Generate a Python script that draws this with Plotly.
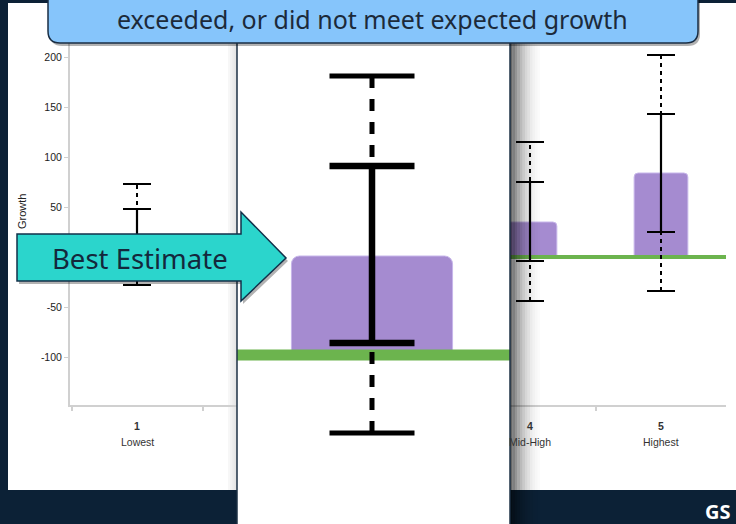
import plotly.graph_objects as go

W, H = 736, 524

# growth by quintile: best estimate and the two uncertainty bands
categories = [1, 2, 3, 4, 5]
category_names = ["Lowest", "Low-Mid", "Middle", "Mid-High", "Highest"]
best_estimate = [22, 27, 33, 35, 84]
inner_low = [-3, 1, 4, -4, 25]
inner_high = [48, 53, 63, 75, 143]
outer_low = [-28, -22, -26, -44, -34]
outer_high = [73, 77, 93, 115, 202]
expected_growth = [0, 0]
y_ticks = [-100, -50, 0, 50, 100, 150, 200]
zoomed_category = 3

banner_text = "exceeded, or did not meet expected growth"
arrow_text = "Best Estimate"

BAR = "#a58bd0"
GREEN = "#6cb44e"
NAVY = "#0c2136"
AXIS = "#d0d0d0"
FONT = "Liberation Sans"


def fx(p):
    return p / W


def fy(p):
    return 1 - p / H


# main chart: category 1 centred at 137px, 131px per category; growth 0 at 257px, 1px per unit
def cat_at(p, centre=1, centre_px=137, step=131):
    return centre + (p - centre_px) / step


def val_at(p, zero_px=257, step=1):
    return (zero_px - p) / step


def add_series(fig, xa, ya, st):
    fig.add_bar(x=categories, y=best_estimate, width=0.41, xaxis=xa, yaxis=ya,
                marker=dict(color=BAR, line=dict(color="#c7b6ea", width=1),
                            cornerradius=st["radius"]))
    edge = [categories[0] - 0.5, categories[-1] + 0.5]
    fig.add_scatter(x=edge, y=expected_growth, mode="lines", xaxis=xa, yaxis=ya,
                    line=dict(color=GREEN, width=st["green"]))
    xs, ys = [], []
    for c, lo, hi in zip(categories, outer_low, outer_high):
        xs += [c, c, None]
        ys += [lo, hi, None]
    fig.add_scatter(x=xs, y=ys, mode="lines", xaxis=xa, yaxis=ya,
                    line=dict(color="black", width=st["dot"], dash=st["dash"]))
    fig.add_scatter(x=categories * 2, y=outer_low + outer_high, mode="markers",
                    xaxis=xa, yaxis=ya,
                    marker=dict(symbol="line-ew", size=st["cap"] / 1.4,
                                line=dict(color="black", width=st["capw"])))
    fig.add_scatter(x=categories, y=best_estimate, mode="markers", xaxis=xa, yaxis=ya,
                    marker=dict(size=1, color="rgba(0,0,0,0)"),
                    error_y=dict(type="data", symmetric=False,
                                 array=[h - b for h, b in zip(inner_high, best_estimate)],
                                 arrayminus=[b - l for b, l in zip(best_estimate, inner_low)],
                                 color="black", thickness=st["solid"], width=st["cap"] / 2))


main_style = dict(radius=4, green=4, dot=2, dash="4px,4px", cap=28, capw=2, solid=2.2)
zoom_style = dict(radius=8, green=11, dot=5, dash="12px,11px", cap=85, capw=5, solid=6.5)

fig = go.Figure()
add_series(fig, "x", "y", main_style)
add_series(fig, "x2", "y2", zoom_style)
add_series(fig, "x3", "y3", main_style)

bounds = [c - 0.5 for c in categories] + [categories[-1] + 0.5]
cat_axis = dict(
    showline=True, linecolor=AXIS, linewidth=2, showgrid=False, zeroline=False,
    showticklabels=False, ticks="",
    minor=dict(tickmode="array", tickvals=bounds, ticks="outside", ticklen=4,
               tickcolor=AXIS, tickwidth=2),
)
main_y = dict(domain=[fy(405), fy(42)], range=[val_at(405), val_at(42)],
              showgrid=False, zeroline=False)

left_range = [cat_at(70), cat_at(237)]
right_range = [cat_at(510), cat_at(726)]
zoom_px = 372  # where the zoomed category sits
fig.update_layout(
    xaxis=dict(domain=[fx(70), fx(237)], range=left_range, anchor="y", **cat_axis),
    yaxis=dict(anchor="x", showline=True, linecolor=AXIS, linewidth=2,
               tickmode="array", tickvals=y_ticks,
               ticktext=[str(v) if v else "" for v in y_ticks],
               ticks="outside", ticklen=4, tickcolor=AXIS,
               tickfont=dict(family=FONT, size=10.5, color="#222"), **main_y),
    xaxis2=dict(domain=[fx(237), fx(510)], anchor="y2", visible=False,
                range=[cat_at(237, zoomed_category, zoom_px, 393),
                       cat_at(510, zoomed_category, zoom_px, 393)]),
    yaxis2=dict(domain=[0, 1], anchor="x2", visible=False,
                range=[val_at(524, 355, 3), val_at(0, 355, 3)]),
    xaxis3=dict(domain=[fx(510), fx(726)], range=right_range, anchor="y3", **cat_axis),
    yaxis3=dict(anchor="x3", visible=False, **main_y),
)

shapes = []


def rect(x0, y0, x1, y1, layer="below", **kw):
    return dict(type="rect", xref="paper", yref="paper", layer=layer,
                x0=fx(x0), x1=fx(x1), y0=fy(y1), y1=fy(y0), **kw)


def path(points, **kw):
    d = ""
    for cmd, *pts in points:
        d += cmd + " ".join(f"{fx(a):.5f},{fy(b):.5f}" for a, b in pts) + " "
    return dict(type="path", xref="paper", yref="paper", layer="above", path=d + "Z", **kw)


def shifted(points, dx, dy):
    return [(c, *[(a + dx, b + dy) for a, b in pts]) for c, *pts in points]


# slide panel and the zoom panel behind the chart
shapes.append(rect(8, 3, 736, 490, fillcolor="white", line_width=0))
shapes.append(rect(237, 0, 510, 524, fillcolor="white", line_width=0))
for i, a in enumerate([0.03, 0.05, 0.07, 0.09, 0.11]):
    shapes.append(rect(228 + i * 1.8, 0, 229.8 + i * 1.8, 490, fillcolor=f"rgba(0,0,0,{a})",
                       line_width=0))
# shadow to the right of the zoom panel
for i, a in enumerate([0.6, 0.5, 0.42, 0.34, 0.27, 0.21, 0.16, 0.12, 0.08, 0.05, 0.03, 0.015]):
    shapes.append(rect(510 + i * 2.5, 0, 512.5 + i * 2.5, 524, layer="above",
                       fillcolor=f"rgba(0,0,0,{a})", line_width=0))
for xp in (237, 510):
    shapes.append(dict(type="line", xref="paper", yref="paper", layer="above",
                       x0=fx(xp), x1=fx(xp), y0=0, y1=1,
                       line=dict(color="#1d3044", width=1.5)))

arrow = [("M", (17, 234)), ("L", (241, 234)), ("L", (241, 212)), ("L", (286, 258)),
         ("L", (241, 301)), ("L", (241, 281)), ("L", (17, 281))]
shapes.append(path(shifted(arrow, 2, 3), fillcolor="rgba(0,0,0,0.3)", line_width=0))
shapes.append(path(arrow, fillcolor="#2bd5cc", line=dict(color="#12304a", width=1.5)))

banner = [("M", (48, -5)), ("L", (48, 31)), ("Q", (48, 43), (60, 43)), ("L", (686, 43)),
          ("Q", (698, 43), (698, 31)), ("L", (698, -5))]
shapes.append(path(shifted(banner, 2, 3), fillcolor="rgba(0,0,0,0.3)", line_width=0))
shapes.append(path(banner, fillcolor="#86c5fb", line=dict(color="#1a2e44", width=1.5)))

annotations = [
    dict(text=banner_text, x=fx(373), y=fy(19), font=dict(family="Noto Sans", size=25,
                                                           color="#1c2a3a")),
    dict(text=arrow_text, x=fx(140), y=fy(258), font=dict(family="Noto Sans", size=27.5,
                                                          color="#14283c")),
    dict(text="Growth", x=fx(22), y=fy(212), textangle=-90,
         font=dict(family=FONT, size=11, color="#222")),
    dict(text="<b>GS</b>", x=fx(718), y=fy(511), font=dict(family="Noto Sans", size=20,
                                                           color="white")),
]
for a in annotations:
    a.update(xref="paper", yref="paper")

# category labels under the visible parts of the axis
for c, n in zip(categories, category_names):
    for xa, rng in (("x", left_range), ("x3", right_range)):
        if rng[0] < c < rng[1]:
            annotations.append(dict(text=f"<b>{c}</b>", x=c, xref=xa, y=fy(426), yref="paper",
                                    font=dict(family=FONT, size=10.5, color="#333")))
            annotations.append(dict(text=n, x=c, xref=xa, y=fy(442), yref="paper",
                                    font=dict(family=FONT, size=10.5, color="#333")))
for a in annotations:
    a.update(showarrow=False, xanchor="center", yanchor="middle")

fig.update_layout(
    width=W, height=H, margin=dict(l=0, r=0, t=0, b=0),
    paper_bgcolor=NAVY, plot_bgcolor="rgba(0,0,0,0)",
    showlegend=False, shapes=shapes, annotations=annotations,
)

fig.write_html("out.html", config={"displayModeBar": False},
               post_script="document.body.style.margin='0';")
